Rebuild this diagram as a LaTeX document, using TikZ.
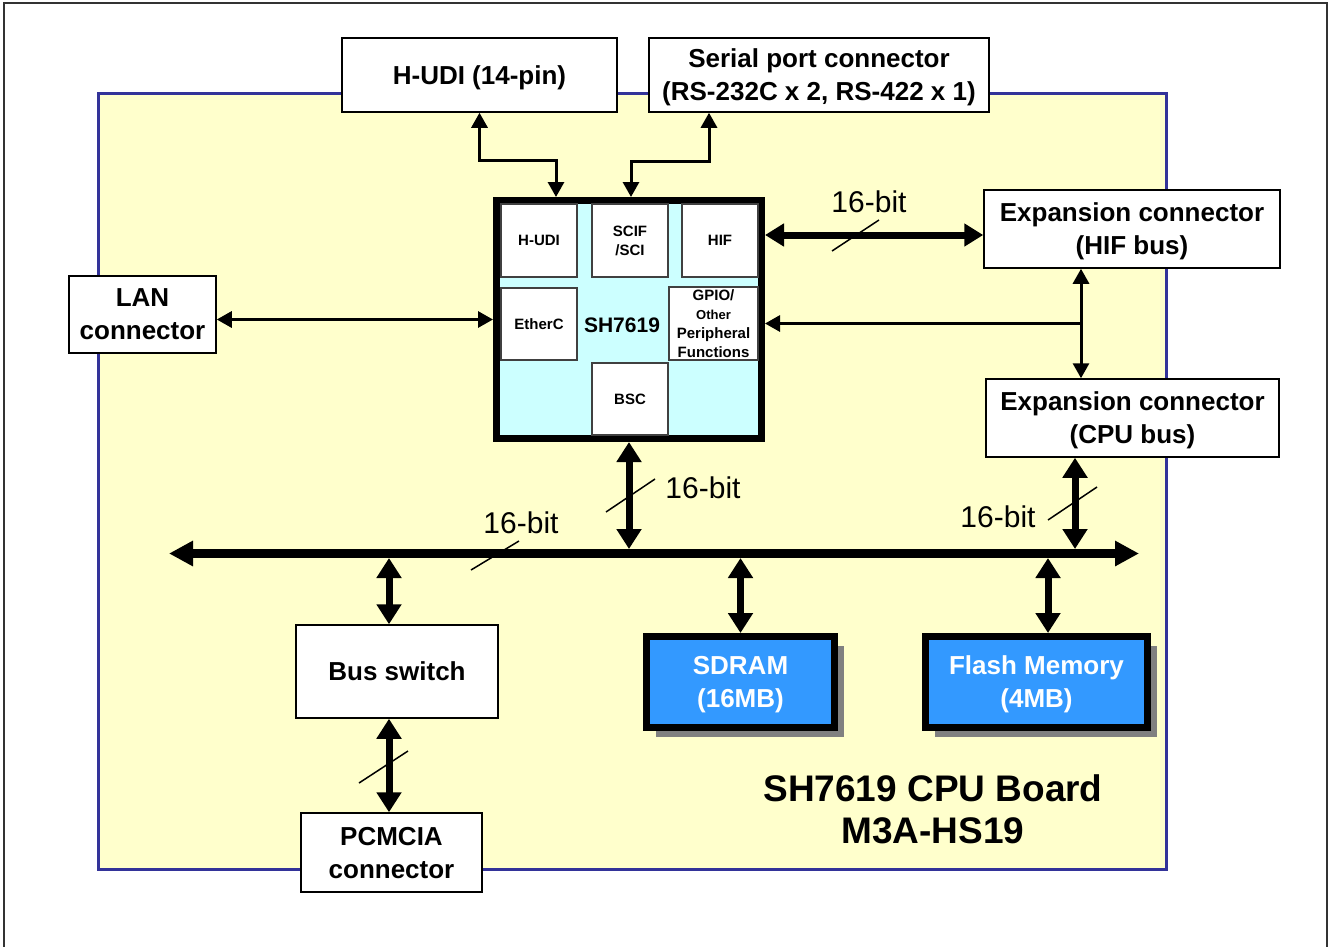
\documentclass[tikz,border=0pt]{standalone}
\usepackage{fontspec}
\setmainfont{Liberation Sans}
\usetikzlibrary{arrows.meta,calc,shadows}
\definecolor{boardfill}{HTML}{FFFFCC}
\definecolor{boardline}{HTML}{333399}
\definecolor{cpufill}{HTML}{CCFFFF}
\definecolor{memfill}{HTML}{3399FF}
\definecolor{shadowgray}{HTML}{808080}
\begin{document}
\begin{tikzpicture}[x=1pt,y=-1pt,
  box/.style={draw=black, line width=1.5pt, fill=white, inner sep=0pt, align=center, text depth=0pt, font=\fontsize{26}{33}\selectfont\bfseries},
  blk/.style={draw=black!75, line width=1.2pt, fill=white, inner sep=0pt, align=center, font=\fontsize{15}{19}\selectfont\bfseries},
  mem/.style={draw=black, line width=7pt, fill=memfill, text=white, inner sep=0pt, align=center, text depth=0pt, font=\fontsize{26}{33}\selectfont\bfseries,
    drop shadow={shadow xshift=9pt, shadow yshift=-9pt, fill=shadowgray, opacity=1}},
  lbl/.style={font=\fontsize{30}{36}\selectfont, inner sep=0pt},
  slash/.style={line width=1.5pt},
  busarrow/.style={line width=9pt, >={Triangle[length=24pt,width=24pt]}, <->},
  vbus/.style={line width=7pt, >={Triangle[length=20pt,width=24pt]}, <->},
  hifarrow/.style={line width=7pt, >={Triangle[length=19pt,width=22pt]}, <->},
  thinarrow/.style={line width=3pt, >={Triangle[length=15pt,width=16pt]}, <->},
  thinend/.style={line width=3pt, >={Triangle[length=15pt,width=16pt]}, ->}
]
\useasboundingbox (0,0) rectangle (1331,946);
\draw[black!80, line width=2pt] (4,950) -- (4,3) -- (1327,3) -- (1327,950);
\draw[boardline, fill=boardfill, line width=3pt] (98,93) rectangle (1166,869);

% outer boxes
\node[box, minimum width=275pt, minimum height=74pt] (hudi14) at (479.5,75) {H-UDI (14-pin)};
\node[box, minimum width=340pt, minimum height=74pt] (serial) at (819,75) {Serial port connector\\(RS-232C x 2, RS-422 x 1)};
\node[box, minimum width=147pt, minimum height=77pt] (lan) at (142.5,314.5) {LAN\\connector};
\node[box, minimum width=296pt, minimum height=78pt] (exphif) at (1132,229) {Expansion connector\\(HIF bus)};
\node[box, minimum width=293pt, minimum height=78pt] (expcpu) at (1132.5,418) {Expansion connector\\(CPU bus)};
\node[box, minimum width=202pt, minimum height=93pt] (busswitch) at (397,671.5) {Bus switch};
\node[box, minimum width=181pt, minimum height=79pt] (pcmcia) at (391.5,852.5) {PCMCIA\\connector};
\node[mem, minimum width=188pt, minimum height=91pt] (sdram) at (740.5,682) {SDRAM\\(16MB)};
\node[mem, minimum width=222pt, minimum height=91pt] (flash) at (1036.5,682) {Flash Memory\\(4MB)};

% CPU
\node[draw=black, line width=7pt, fill=cpufill, minimum width=265pt, minimum height=238pt, inner sep=0pt] (cpu) at (629,319.5) {};
\node[blk, minimum width=76pt, minimum height=73pt] (bhudi) at (539,240.5) {H-UDI};
\node[blk, minimum width=76pt, minimum height=73pt] (bscif) at (630,240.5) {SCIF\\/SCI};
\node[blk, minimum width=76pt, minimum height=73pt] (bhif) at (720,240.5) {HIF};
\node[blk, minimum width=76pt, minimum height=72pt] (beth) at (539,324) {EtherC};
\node[blk, minimum width=89pt, minimum height=73pt] (bgpio) at (713.5,323.5) {\fontsize{15}{16.3}\selectfont GPIO/\\\fontsize{13}{16.3}\selectfont Other\\Peripheral\\Functions};
\node[blk, minimum width=76pt, minimum height=72pt] (bbsc) at (630,399) {BSC};
\node[font=\fontsize{21}{25}\selectfont\bfseries, inner sep=0pt] (cpulbl) at (622,325) {SH7619};

% bus
\coordinate (bt) at (0,549);
\coordinate (bb) at (0,558);
\coordinate (busL) at (169,553.5);
\coordinate (busR) at (1139,553.5);
\draw[busarrow] (busL) -- (busR);
\draw[vbus] (cpu.south) -- (cpu.south |- bt);
\draw[vbus] ([xshift=-8pt]busswitch.north |- bb) -- ([xshift=-8pt]busswitch.north);
\draw[vbus] ([xshift=-8pt]busswitch.south) -- ([xshift=-8pt]busswitch.south |- pcmcia.north);
\draw[vbus] (sdram.north |- bb) -- (sdram.north);
\draw[vbus] ([xshift=11.5pt]flash.north |- bb) -- ([xshift=11.5pt]flash.north);
\draw[vbus] ([xshift=-57.5pt]expcpu.south) -- ([xshift=-57.5pt]expcpu.south |- bt);

% HIF / LAN / GPIO
\coordinate (hify) at (0,235);
\draw[hifarrow] (cpu.east |- hify) -- (exphif.west |- hify);
\draw[thinarrow] (lan.east |- cpu.west) -- (cpu.west);
\draw[thinarrow] ([xshift=-51pt]exphif.south) -- ([xshift=-51pt]exphif.south |- expcpu.north);
\coordinate (gj) at ([xshift=-51pt]exphif.south |- bgpio.east);
\draw[thinend] (gj) -- (cpu.east |- gj);

% top
\coordinate (jh) at (556,160);
\draw[thinarrow] (hudi14.south) |- (jh) -- (jh |- cpu.north);
\coordinate (js) at (631,161);
\draw[thinarrow] ([xshift=-110pt]serial.south) |- (js) -- (js |- cpu.north);

% slashes
\draw[slash] (471,570) -- (519,541);
\draw[slash] (606,512) -- (655,479);
\draw[slash] (1048,520) -- (1097,487);
\draw[slash] (832,251) -- (879,220);
\draw[slash] (359,783) -- (408,751);

% labels
\node[lbl] (l1) at (521,523) {16-bit};
\node[lbl] (l2) at (703,488) {16-bit};
\node[lbl] (l3) at (998,517) {16-bit};
\node[lbl] (l4) at (869,202) {16-bit};
\node[font=\fontsize{37}{42}\selectfont\bfseries, align=center, inner sep=0pt] (title) at (933,809) {SH7619 CPU Board\\M3A-HS19};
\end{tikzpicture}
\end{document}
